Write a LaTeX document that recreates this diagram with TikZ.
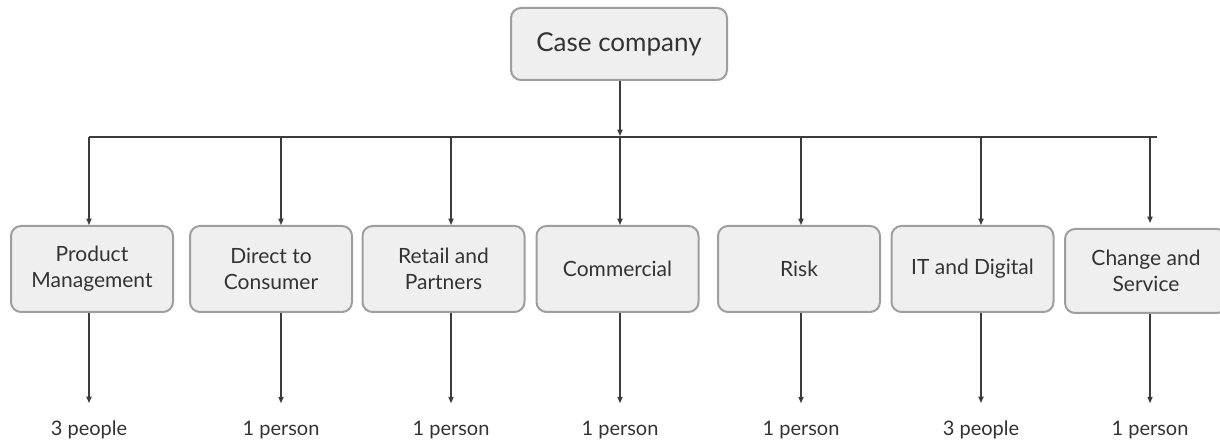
\documentclass[tikz,border=0pt]{standalone}
\usepackage{fontspec}
\setmainfont{Lato}
\usepackage{tikz}
\usetikzlibrary{arrows.meta}
\usepackage{xcolor}
\definecolor{boxfill}{RGB}{239,239,239}
\definecolor{boxline}{RGB}{158,158,158}
\definecolor{linkline}{RGB}{60,60,60}
\definecolor{textgray}{RGB}{51,51,51}

\begin{document}
\begin{tikzpicture}[x=0.5pt,y=0.5pt,yscale=-1,xscale=1,
    unitbox/.style={draw=boxline,fill=boxfill,line width=1pt,rounded corners=5pt,
        minimum width=81pt,minimum height=43pt,align=center,inner sep=1pt,
        text=textgray,font=\fontsize{10.5}{13}\selectfont},
    topbox/.style={unitbox,minimum width=108pt,minimum height=36pt,font=\fontsize{13}{15}\selectfont},
    headcount/.style={text=textgray,inner sep=0.75pt,font=\fontsize{10}{12}\selectfont},
    link/.style={draw=linkline,line width=0.6pt},
    linkarrow/.style={link,-{Triangle[length=3.2pt,width=2.6pt]}}]
    \useasboundingbox (0,0) rectangle (1220,442);

    % Top box
    \node[topbox] (case) at (619,44) {Case company};

    % Unit boxes
    \node[unitbox] (prod) at (92,269) {Product\\Management};
    \node[unitbox] (dtc) at (271,269) {Direct to\\Consumer};
    \node[unitbox] (retail) at (443.5,269) {Retail and\\Partners};
    \node[unitbox] (comm) at (617.5,269) {Commercial};
    \node[unitbox] (risk) at (799,269) {Risk};
    \node[unitbox] (itdig) at (972.5,269) {IT and Digital};
    \node[unitbox,minimum height=42pt] (change) at (1146,271) {Change and\\Service};

    % Bus coordinates
    \coordinate (busleft) at (89,137);
    \coordinate (busright) at (1157,137);
    \coordinate (bustop) at (620,136);
    \coordinate (busprod) at (89,137);
    \coordinate (busdtc) at (281,137);
    \coordinate (busretail) at (451,137);
    \coordinate (buscomm) at (620,137);
    \coordinate (busrisk) at (801,137);
    \coordinate (busitdig) at (981,137);
    \coordinate (buschange) at (1150,137);
    \coordinate (tipchange) at (1150,223);

    %Straight Lines
    \draw[linkarrow] (case.south -| bustop) -- (bustop);
    \draw[link] (busleft) -- (busright);
    \draw[linkarrow] (busprod) -- (busprod |- prod.north);
    \draw[linkarrow] (busdtc) -- (busdtc |- dtc.north);
    \draw[linkarrow] (busretail) -- (busretail |- retail.north);
    \draw[linkarrow] (buscomm) -- (buscomm |- comm.north);
    \draw[linkarrow] (busrisk) -- (busrisk |- risk.north);
    \draw[linkarrow] (busitdig) -- (busitdig |- itdig.north);
    \draw[linkarrow] (buschange) -- (tipchange);

    % Text Node
    \node[headcount] (nprod) at (89,430) {3 people};
    \node[headcount] (ndtc) at (281,430) {1 person};
    \node[headcount] (nretail) at (451,430) {1 person};
    \node[headcount] (ncomm) at (620,430) {1 person};
    \node[headcount] (nrisk) at (801,430) {1 person};
    \node[headcount] (nitdig) at (981,430) {3 people};
    \node[headcount] (nchange) at (1150,430) {1 person};

    %Straight Lines
    \draw[linkarrow,shorten >=8pt] (prod.south -| nprod) -- (nprod.north);
    \draw[linkarrow,shorten >=8pt] (dtc.south -| ndtc) -- (ndtc.north);
    \draw[linkarrow,shorten >=8pt] (retail.south -| nretail) -- (nretail.north);
    \draw[linkarrow,shorten >=8pt] (comm.south -| ncomm) -- (ncomm.north);
    \draw[linkarrow,shorten >=8pt] (risk.south -| nrisk) -- (nrisk.north);
    \draw[linkarrow,shorten >=8pt] (itdig.south -| nitdig) -- (nitdig.north);
    \draw[linkarrow,shorten >=8pt] (change.south -| nchange) -- (nchange.north);
\end{tikzpicture}
\end{document}
